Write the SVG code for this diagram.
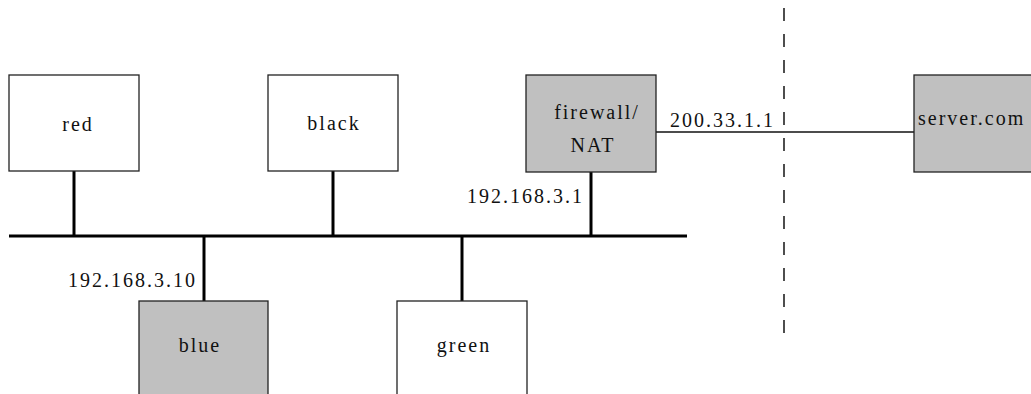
<svg xmlns="http://www.w3.org/2000/svg" width="1031" height="394" viewBox="0 0 1031 394">
<style>
.box{stroke:#222;stroke-width:1.3}
.w{fill:#fff}
.g{fill:#c0c0c0}
text{font-family:"Liberation Serif","Times New Roman",serif;font-size:20px;fill:#111;letter-spacing:2px}
.c{text-anchor:middle}
.e{text-anchor:end}
.wire{stroke:#000;stroke-width:3;fill:none}
.thin{stroke:#111;stroke-width:1.4;fill:none}
.dash{stroke:#222;stroke-width:1.6;stroke-dasharray:13 13;fill:none}
</style>
<rect width="1031" height="394" fill="#fff"/>
<g id="connectors">
<line class="wire" x1="9" y1="236" x2="687" y2="236"/>
<line class="wire" x1="74" y1="171" x2="74" y2="236"/>
<line class="wire" x1="333" y1="171" x2="333" y2="236"/>
<line class="wire" x1="591" y1="172" x2="591" y2="236"/>
<line class="wire" x1="204" y1="236" x2="204" y2="301"/>
<line class="wire" x1="462" y1="236" x2="462" y2="301"/>
<line class="thin" x1="656" y1="132" x2="914" y2="132"/>
<line class="dash" x1="784" y1="8" x2="784" y2="334"/>
<text class="e" x="197" y="287">192.168.3.10</text>
<text class="e" x="584" y="203">192.168.3.1</text>
<text x="670" y="127">200.33.1.1</text>
</g>
<g id="red">
<rect class="box w" x="9" y="75" width="130" height="96"/>
<text class="c" x="78" y="131">red</text>
</g>
<g id="black">
<rect class="box w" x="268" y="75" width="130" height="96"/>
<text class="c" x="334" y="130">black</text>
</g>
<g id="firewall">
<rect class="box g" x="526" y="75" width="130" height="97"/>
<text class="c" x="597" y="119">firewall/</text>
<text class="c" x="593" y="152">NAT</text>
</g>
<g id="server">
<rect class="box g" x="914" y="75" width="130" height="97"/>
<text x="918" y="125">server.com</text>
</g>
<g id="blue">
<rect class="box g" x="139" y="301" width="129" height="100"/>
<text class="c" x="200" y="352">blue</text>
</g>
<g id="green">
<rect class="box w" x="397" y="301" width="130" height="100"/>
<text class="c" x="464" y="352">green</text>
</g>
</svg>
